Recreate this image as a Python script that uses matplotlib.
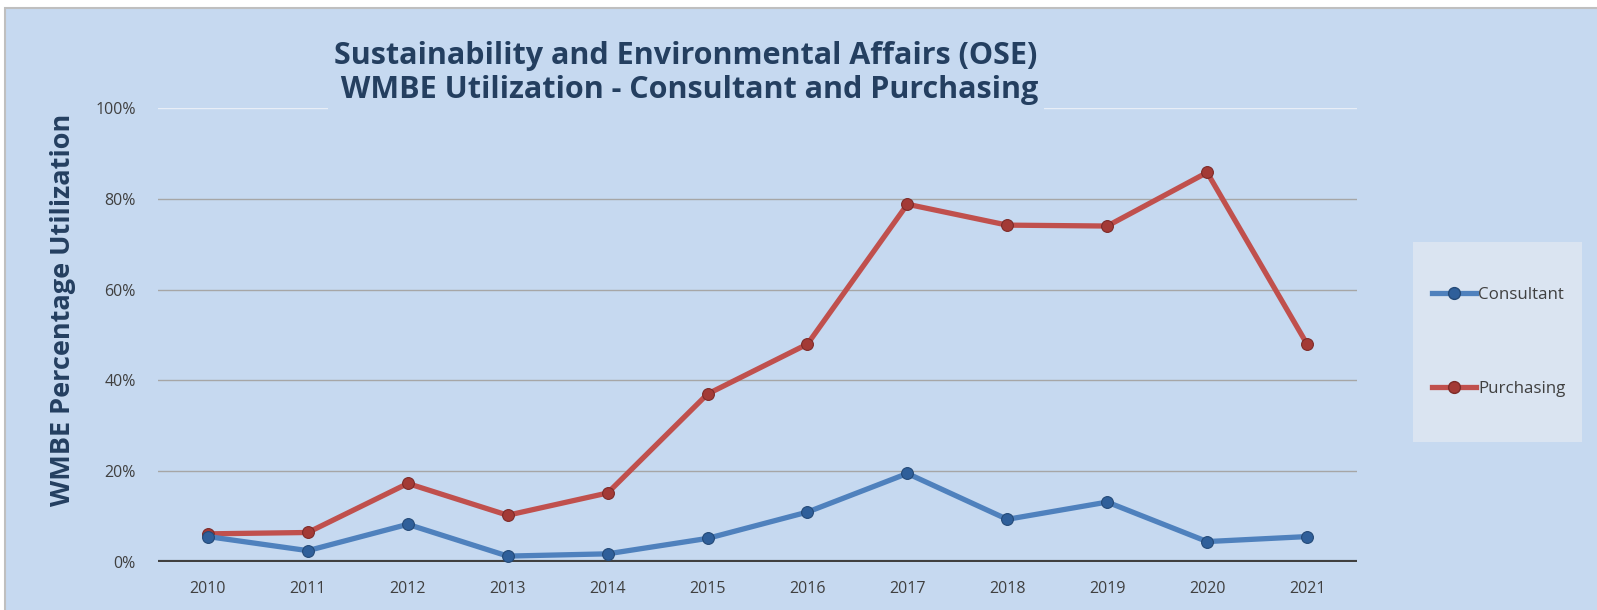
import matplotlib
matplotlib.use("Agg")
import matplotlib.pyplot as plt
from matplotlib.patches import Rectangle
from matplotlib.ticker import FuncFormatter
from matplotlib.lines import Line2D

years = ["2010", "2011", "2012", "2013", "2014", "2015", "2016", "2017", "2018", "2019", "2020", "2021"]
consultant = [5.6, 2.5, 8.3, 1.3, 1.8, 5.2, 11.0, 19.5, 9.4, 13.2, 4.5, 5.6]
purchasing = [6.2, 6.5, 17.3, 10.3, 15.2, 37.0, 48.0, 78.8, 74.2, 74.0, 85.8, 48.0]
yticks = [0, 20, 40, 60, 80, 100]

title = "Sustainability and Environmental Affairs (OSE)\n WMBE Utilization - Consultant and Purchasing"
ylabel = "WMBE Percentage Utilization"

bg = "#C6D9F0"
navy = "#243F60"
txt = "#404040"
blue = "#4F81BD"
red = "#C0504D"

plt.rcParams['font.family'] = ['Open Sans', 'DejaVu Sans']

fig = plt.figure(figsize=(15.97, 6.10), dpi=100, facecolor="white")
fig.patches.append(Rectangle((5/1597, -0.05), 1.1, 1.05 - 8/610, transform=fig.transFigure,
                             facecolor=bg, edgecolor="#BFBFBF", linewidth=1.5, zorder=-10))

ax = fig.add_axes([158/1597, 1 - 562/610, 1199/1597, 454/610])
ax.set_facecolor(bg)
ax.patch.set_alpha(0)
x = list(range(len(years)))
ax.set_xlim(-0.5, len(years) - 0.5)
ax.set_ylim(0, 100)

for v in yticks[1:]:
    ax.axhline(v, color="#A6A6A6" if v < 100 else "#E8EEF7", lw=1.0, zorder=1)
ax.axhline(0, color="#404040", lw=3, zorder=2)

ax.plot(x, consultant, color=blue, lw=3.8, marker='o', markersize=8.5,
        markerfacecolor="#2F5F9A", markeredgecolor="#244A78", markeredgewidth=0.8, zorder=4, label="Consultant")
ax.plot(x, purchasing, color=red, lw=3.8, marker='o', markersize=8.5,
        markerfacecolor="#A33A36", markeredgecolor="#7E2B28", markeredgewidth=0.8, zorder=3, label="Purchasing")

ax.set_xticks(x)
ax.set_xticklabels(years)
ax.set_yticks(yticks)
ax.yaxis.set_major_formatter(FuncFormatter(lambda v, p: f"{int(v)}%"))
ax.tick_params(axis='both', length=0, labelsize=11.5, colors=txt)
ax.tick_params(axis='x', pad=14)
ax.tick_params(axis='y', pad=16)
for s in ax.spines.values():
    s.set_visible(False)

fig.text(686/1597, 1 - 73/610, title, ha='center', va='center', fontsize=22, fontweight='bold',
         color=navy, linespacing=1.2,
         bbox=dict(facecolor=bg, edgecolor='none', pad=4), zorder=5)
fig.text(63/1597, 1 - 310/610, ylabel, rotation=90, ha='center', va='center', fontsize=19.5,
         fontweight='bold', color=navy)

# legend box
fig.patches.append(Rectangle((1413/1597, 1 - 442/610), 169/1597, 200/610, transform=fig.transFigure,
                             facecolor="#DAE4F1", edgecolor='none', zorder=-5))
handles = [Line2D([0], [0], color=blue, lw=3.8, marker='o', markersize=8.5, markerfacecolor="#2F5F9A",
                  markeredgecolor="#244A78"),
           Line2D([0], [0], color=red, lw=3.8, marker='o', markersize=8.5, markerfacecolor="#A33A36",
                  markeredgecolor="#7E2B28")]
leg = fig.legend(handles, ["Consultant", "Purchasing"], loc='center left',
                 bbox_to_anchor=(1417/1597, 1 - 342/610), frameon=False, fontsize=12.2,
                 labelspacing=4.6, handlelength=2.6, handletextpad=0.12)
for t in leg.get_texts():
    t.set_color(txt)

fig.savefig("out.png", dpi=100, facecolor="white")
